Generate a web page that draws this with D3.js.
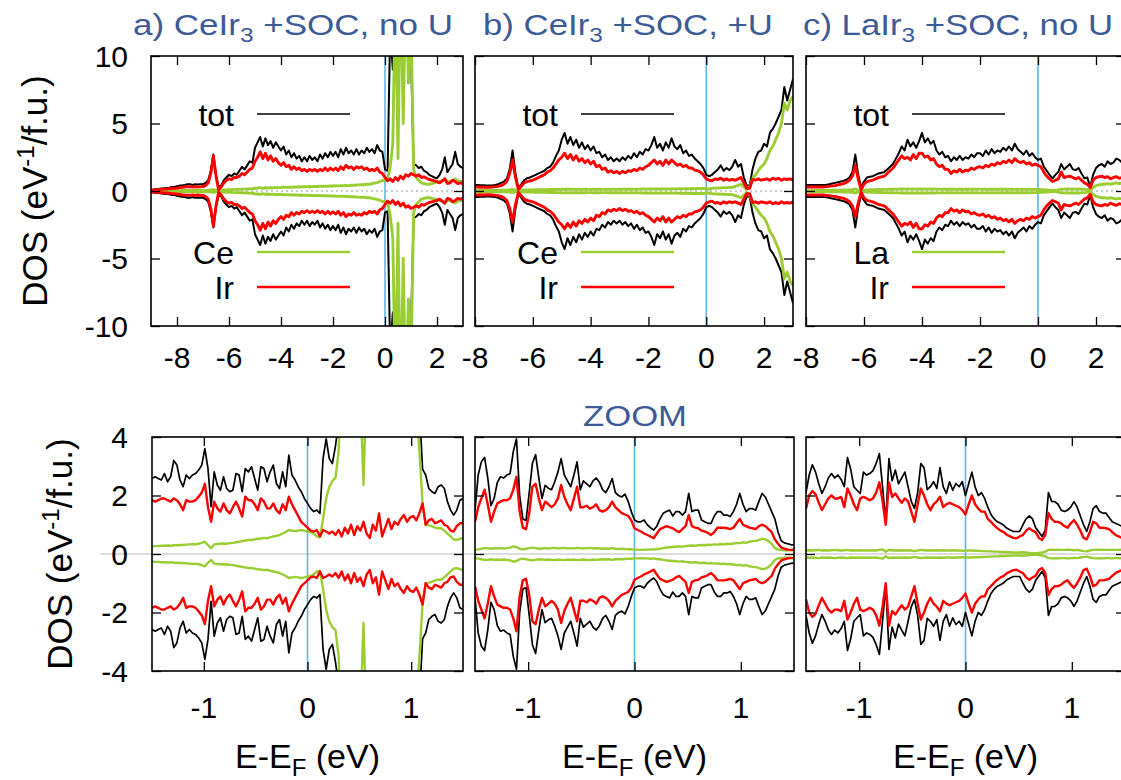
<!DOCTYPE html>
<html>
<head>
<meta charset="utf-8">
<script src="https://cdn.jsdelivr.net/npm/d3@7"></script>
<style>
body { margin: 0; background: #fff; }
text { font-family: "Liberation Sans", Arial, Helvetica, sans-serif; }
</style>
</head>
<body>
<div id="chart-area"></div>
<script>

// ---- DOS data (positive half; lower half is the mirror) ----
// top row: energy grid starts at topA_start / topBC_start with step 0.1 eV
var topA_start = -9, topBC_start = -8, top_step = 0.1;
var zoom_start = -1.5, zoom_step = 0.03;

var topA_tot = [
 0.1,0.12,0.15,0.15,0.18,0.2,0.22,0.25,0.3,0.3,
 0.35,0.4,0.42,0.45,0.5,0.5,0.45,0.5,0.48,0.5,
 0.5,0.6,0.8,1.5,2.7,1.2,0.3,0.4,0.8,1.0,
 1.2,1.1,1.3,1.2,1.5,1.8,1.6,1.9,2.2,2.1,
 3.2,3.6,4.0,3.3,3.9,3.4,3.7,3.2,3.6,3.3,
 3.0,3.3,2.7,3.0,2.5,2.8,2.4,2.6,2.2,2.5,
 2.2,2.6,2.3,2.5,2.2,2.7,2.4,2.8,2.5,2.9,
 2.6,2.9,2.5,3.1,2.7,3.2,2.8,3.0,2.7,3.1,
 2.7,3.0,2.8,3.2,2.9,3.1,2.8,3.4,3.0,2.9,
 1.6,1.5,12,9,14,15,16,14,15,13,
 10,2.0,1.9,1.7,1.8,1.5,1.4,1.2,1.1,1.0,
 0.95,1.2,1.6,2.5,1.4,1.7,2.0,2.9,2.0,1.8,
 1.7];
var topA_ir = [
 0.05,0.07,0.1,0.1,0.12,0.14,0.15,0.17,0.2,0.2,
 0.22,0.25,0.28,0.3,0.32,0.32,0.3,0.32,0.3,0.32,
 0.33,0.4,0.6,1.3,2.6,1.1,0.1,0.3,0.6,0.8,
 0.9,0.85,1.0,1.0,1.1,1.3,1.2,1.4,1.6,1.7,
 2.2,2.5,2.9,2.4,2.8,2.3,2.6,2.2,2.4,2.1,
 1.9,2.1,1.8,1.9,1.6,1.8,1.6,1.7,1.5,1.6,
 1.45,1.6,1.5,1.6,1.45,1.6,1.5,1.7,1.5,1.7,
 1.55,1.7,1.5,1.8,1.6,1.9,1.7,1.8,1.6,1.8,
 1.7,1.8,1.6,1.7,1.5,1.6,1.5,1.7,1.4,1.3,
 1.0,0.75,0.9,0.7,1.0,0.8,1.1,0.9,1.2,1.1,
 1.3,1.2,1.1,1.2,1.0,1.05,0.95,0.85,0.8,0.75,
 0.7,0.6,0.75,0.9,0.55,0.6,0.8,0.7,0.55,0.6,
 0.55];
var topA_ce = [
 0.01,0.01,0.01,0.02,0.02,0.02,0.02,0.03,0.03,0.03,
 0.03,0.04,0.04,0.04,0.05,0.05,0.05,0.05,0.05,0.05,
 0.05,0.05,0.06,0.08,0.1,0.06,0.02,0.06,0.08,0.08,
 0.1,0.1,0.12,0.12,0.13,0.14,0.14,0.15,0.16,0.17,
 0.2,0.22,0.25,0.2,0.24,0.22,0.25,0.23,0.26,0.25,
 0.26,0.28,0.27,0.29,0.28,0.3,0.29,0.31,0.3,0.32,
 0.31,0.33,0.32,0.34,0.33,0.35,0.34,0.36,0.35,0.37,
 0.37,0.39,0.38,0.4,0.39,0.41,0.4,0.43,0.42,0.44,
 0.45,0.47,0.46,0.5,0.49,0.55,0.58,0.62,0.7,0.78,
 0.8,0.9,1.8,3.5,15,2.4,17,5,16,8,
 13,1.6,1.0,0.8,0.6,0.55,0.5,0.5,0.55,0.6,
 0.65,0.7,0.75,0.9,0.7,0.7,0.8,0.9,0.75,0.7,
 0.7];

var topB_tot = [
 0.45,0.45,0.42,0.43,0.4,0.4,0.42,0.45,0.5,0.6,
 0.7,0.9,1.6,3.0,1.3,0.2,0.5,0.8,0.95,1.0,
 1.1,1.2,1.3,1.4,1.5,1.7,1.8,2.1,2.6,3.0,
 3.8,4.3,3.5,4.0,3.4,3.8,3.2,3.6,3.1,3.4,
 3.0,3.3,2.8,2.9,2.5,2.7,2.3,2.5,2.2,2.4,
 2.2,2.5,2.3,2.6,2.4,2.8,2.5,2.9,2.7,3.1,
 3.0,3.4,4.0,3.2,3.5,3.0,3.6,3.2,3.9,3.3,
 3.1,3.4,2.8,3.0,2.6,2.7,2.4,2.2,2.0,1.7,
 1.2,1.1,1.2,1.4,1.6,1.9,1.5,1.7,1.55,1.8,
 2.3,1.8,2.0,1.0,0.4,0.4,1.6,2.4,2.9,3.0,
 3.5,3.3,4.3,4.6,5.0,5.5,6.0,7.7,6.7,7.5,
 8.3];
var topB_ir = [
 0.3,0.3,0.28,0.3,0.28,0.28,0.3,0.32,0.35,0.4,
 0.5,0.7,1.3,2.3,1.0,0.1,0.35,0.6,0.7,0.75,
 0.8,0.9,1.0,1.1,1.2,1.4,1.5,1.7,2.0,2.3,
 2.5,2.8,2.4,2.7,2.3,2.6,2.2,2.4,2.1,2.3,
 2.0,2.2,1.8,1.9,1.6,1.7,1.4,1.5,1.35,1.45,
 1.3,1.45,1.35,1.5,1.45,1.6,1.5,1.7,1.6,1.8,
 1.9,2.1,2.3,2.0,2.2,1.9,2.3,2.0,2.3,2.1,
 1.9,2.0,1.8,1.9,1.7,1.7,1.55,1.5,1.4,1.2,
 0.9,0.8,0.75,0.9,0.85,0.95,0.8,0.9,0.8,0.85,
 0.8,0.9,1.0,0.6,0.2,0.2,0.85,0.8,0.9,0.8,
 0.85,0.9,0.8,0.95,0.85,0.94,0.8,0.9,0.85,0.9,
 0.8];
var topB_ce = [
 0.05,0.05,0.05,0.05,0.05,0.05,0.05,0.05,0.05,0.06,
 0.06,0.07,0.08,0.12,0.07,0.02,0.05,0.07,0.08,0.08,
 0.08,0.09,0.09,0.1,0.1,0.1,0.11,0.11,0.12,0.12,
 0.13,0.14,0.13,0.14,0.13,0.12,0.13,0.12,0.13,0.12,
 0.12,0.13,0.12,0.13,0.12,0.12,0.13,0.12,0.13,0.12,
 0.13,0.14,0.13,0.14,0.13,0.14,0.13,0.14,0.15,0.14,
 0.15,0.16,0.15,0.16,0.15,0.16,0.15,0.16,0.15,0.16,
 0.16,0.17,0.16,0.17,0.17,0.18,0.17,0.18,0.18,0.19,
 0.15,0.15,0.2,0.21,0.22,0.23,0.24,0.25,0.26,0.27,
 0.35,0.42,0.5,0.3,0.12,0.3,0.9,1.2,1.5,1.8,
 2.0,2.4,3.0,3.3,3.8,4.3,5.0,6.5,6.0,6.7,
 7.0];

var topC_tot = [
 0.45,0.45,0.44,0.45,0.45,0.45,0.45,0.47,0.5,0.55,
 0.6,0.65,0.7,0.75,0.85,1.0,1.4,2.7,1.2,0.3,
 0.7,1.0,1.06,1.1,1.2,1.3,1.35,1.4,1.6,1.8,
 2.0,2.4,2.8,3.3,3.0,3.8,3.3,3.6,3.2,3.7,
 4.3,3.6,3.9,3.5,3.7,3.0,2.7,2.9,2.5,2.6,
 2.2,2.5,2.3,2.6,2.3,2.5,2.4,2.7,2.5,2.8,
 2.8,2.6,3.0,2.7,3.1,2.8,3.0,2.9,3.2,3.0,
 3.3,3.0,3.5,3.1,2.9,2.7,3.0,2.6,2.8,2.5,
 2.3,2.4,1.8,1.5,1.2,0.94,1.2,1.4,2.0,1.6,
 1.8,2.0,1.6,1.55,1.7,1.3,0.94,1.0,0.3,1.2,
 1.7,1.9,2.0,1.8,2.2,2.0,2.1,2.4,2.3,2.1,
 2.0];
var topC_ir = [
 0.3,0.3,0.3,0.3,0.3,0.3,0.3,0.32,0.34,0.38,
 0.4,0.45,0.5,0.55,0.65,0.8,1.1,1.9,0.9,0.1,
 0.5,0.7,0.75,0.8,0.9,1.0,1.05,1.1,1.3,1.5,
 1.7,2.0,2.3,2.6,2.4,2.5,2.3,2.7,2.4,2.8,
 2.8,2.5,2.6,2.3,2.4,2.0,1.8,1.9,1.6,1.6,
 1.3,1.5,1.4,1.6,1.4,1.55,1.5,1.7,1.6,1.75,
 1.8,1.7,1.9,1.8,2.0,1.9,2.1,2.0,2.2,2.1,
 2.3,2.1,2.4,2.2,2.1,2.2,2.0,2.1,1.9,2.0,
 1.9,1.8,1.4,1.1,0.9,0.7,0.8,0.9,1.4,1.0,
 1.06,1.1,1.0,0.9,1.0,0.8,0.6,0.5,0.25,0.8,
 1.0,1.06,1.1,1.0,1.06,0.9,1.0,1.06,0.94,1.0,
 0.9];
var topC_la = [
 0.03,0.03,0.04,0.04,0.04,0.05,0.05,0.05,0.05,0.06,
 0.06,0.06,0.06,0.07,0.07,0.08,0.09,0.15,0.06,0.02,
 0.06,0.08,0.09,0.1,0.1,0.11,0.11,0.12,0.12,0.13,
 0.13,0.14,0.14,0.15,0.14,0.15,0.14,0.15,0.14,0.15,
 0.15,0.14,0.15,0.14,0.15,0.14,0.14,0.13,0.14,0.13,
 0.13,0.14,0.13,0.14,0.13,0.14,0.13,0.14,0.13,0.14,
 0.14,0.13,0.14,0.13,0.14,0.13,0.14,0.13,0.14,0.13,
 0.13,0.14,0.12,0.13,0.12,0.13,0.12,0.13,0.12,0.12,
 0.11,0.1,0.09,0.08,0.06,0.05,0.04,0.08,0.14,0.14,
 0.15,0.14,0.15,0.14,0.15,0.14,0.12,0.1,0.08,0.25,
 0.4,0.45,0.5,0.5,0.55,0.5,0.55,0.6,0.55,0.6,
 0.55];

// bottom row (ZOOM): grid from -1.5 eV in 0.03 eV steps
var zoomA_tot = [
 2.58,2.64,2.58,2.53,2.75,2.47,2.64,3.2,3.04,2.53,
 2.3,2.7,2.58,2.7,2.75,2.87,3.04,3.6,2.92,1.62,
 2.81,2.36,2.18,2.64,2.24,2.13,2.18,2.75,2.7,2.13,
 2.92,2.81,2.98,2.58,2.18,2.98,2.92,2.47,2.81,3.04,
 2.41,2.24,2.81,2.3,3.38,2.7,2.53,2.3,2.13,1.9,
 1.73,1.56,1.45,1.5,1.39,3.26,3.94,3.26,3.09,3.7,
 4.5,5,7,6,9,8,10,12,9,11,
 14,10,12,9,13,11,8,10,12,9,
 7,8,6,7,5,6,5,2.9,2.7,2.24,
 2.13,2.07,2.3,2.36,2.24,1.79,1.5,1.33,1.5,1.84,
 1.9];
var zoomA_ir = [
 1.84,1.79,1.84,1.9,1.9,1.84,1.79,1.9,1.84,1.7,
 1.5,1.84,1.79,1.79,1.84,1.96,2.1,2.4,1.6,1.1,
 1.79,1.56,1.45,1.73,1.5,1.39,1.6,1.79,1.56,1.28,
 1.96,1.84,1.84,1.7,1.5,1.9,1.79,1.56,1.56,1.73,
 1.5,1.39,1.7,1.5,1.96,1.7,1.5,1.3,1.1,1.0,
 0.9,0.8,0.77,0.82,0.6,0.82,0.77,0.7,0.77,0.65,
 0.82,0.6,0.9,0.7,1.0,0.65,0.95,0.8,1.1,0.7,
 0.55,1.0,0.8,1.39,0.6,0.9,1.2,0.85,1.1,1.0,
 1.2,1.33,1.1,1.25,1.3,1.15,1.4,1.73,1.0,1.15,
 1.2,1.05,1.1,1.15,1.0,0.95,0.8,0.77,0.95,1.05,
 1.05];
var zoomA_ce = [
 0.26,0.27,0.27,0.28,0.28,0.29,0.28,0.3,0.3,0.31,
 0.31,0.32,0.33,0.34,0.33,0.35,0.38,0.42,0.3,0.2,
 0.33,0.34,0.35,0.36,0.35,0.37,0.38,0.4,0.42,0.44,
 0.46,0.48,0.48,0.5,0.52,0.53,0.55,0.54,0.57,0.6,
 0.62,0.65,0.7,0.75,0.82,0.8,0.78,0.8,0.82,0.8,
 0.77,0.75,0.7,0.6,0.58,1.2,1.9,2.3,2.5,2.6,
 3.5,6,9,12,15,11,8,5.5,2.36,6,
 10,14,18,20,16,12,15,19,22,17,
 13,10,14,9,7,5,3.5,1.7,1.0,0.98,
 0.95,0.9,0.88,0.88,0.8,0.7,0.6,0.5,0.48,0.52,
 0.54];

var zoomB_tot = [
 1.5,2.7,3.15,3.3,2.6,1.65,1.9,2.45,2.64,2.6,
 2.7,2.75,3.5,3.94,2.0,1.2,1.15,2.1,3.1,3.4,
 2.6,1.9,2.35,2.25,2.2,2.47,2.8,3.26,2.7,2.5,
 2.3,2.7,3.15,2.2,2.5,2.4,2.3,2.5,2.6,2.45,
 2.2,2.1,2.3,2.58,2.1,2.0,1.95,2.05,1.8,1.45,
 1.16,1.1,1.1,1.16,1.0,0.9,0.82,0.95,1.2,1.39,
 1.45,1.5,1.3,1.45,1.45,1.33,1.45,2.07,1.45,1.5,
 1.5,1.16,1.1,1.05,1.05,1.3,1.45,1.45,1.33,1.33,
 1.28,1.45,1.7,2.07,1.7,1.45,1.55,1.55,1.5,1.8,
 2.07,1.95,1.7,1.45,1.2,0.75,0.45,0.38,0.35,0.32,
 0.31];
var zoomB_ir = [
 1.1,1.6,1.9,2.2,1.7,1.1,1.45,1.73,1.79,1.84,
 1.84,1.9,2.2,2.64,1.45,0.9,0.85,1.4,2.3,2.4,
 1.9,1.5,1.79,1.7,1.6,1.7,1.9,2.36,1.95,1.7,
 1.5,1.9,2.3,1.6,1.6,1.65,1.55,1.6,1.7,1.5,
 1.45,1.5,1.6,1.79,1.6,1.5,1.4,1.35,1.3,1.15,
 0.88,0.82,0.77,0.7,0.65,0.6,0.54,0.7,0.85,0.9,
 0.95,0.92,0.88,0.8,0.75,0.85,0.95,1.33,0.95,0.9,
 0.88,0.8,0.77,0.72,0.65,0.75,0.9,0.9,0.9,0.88,
 0.85,0.9,1.05,1.2,1.0,0.95,0.9,0.88,0.85,0.95,
 1.0,0.95,0.85,0.75,0.5,0.35,0.22,0.18,0.15,0.14,
 0.14];
var zoomB_ce = [
 0.14,0.16,0.18,0.2,0.2,0.18,0.2,0.19,0.2,0.19,
 0.2,0.22,0.26,0.24,0.18,0.16,0.18,0.2,0.22,0.2,
 0.18,0.19,0.2,0.19,0.2,0.21,0.19,0.2,0.21,0.19,
 0.2,0.19,0.21,0.2,0.19,0.2,0.21,0.19,0.2,0.19,
 0.18,0.19,0.18,0.2,0.18,0.17,0.18,0.17,0.16,0.16,
 0.15,0.15,0.14,0.15,0.15,0.16,0.15,0.17,0.18,0.2,
 0.22,0.23,0.24,0.25,0.26,0.25,0.27,0.28,0.29,0.28,
 0.3,0.31,0.3,0.32,0.31,0.33,0.32,0.34,0.33,0.35,
 0.34,0.36,0.38,0.37,0.4,0.38,0.42,0.44,0.45,0.48,
 0.52,0.5,0.45,0.35,0.2,0.15,0.14,0.13,0.13,0.13,
 0.13];

var zoomC_tot = [
 2.1,2.7,3.05,2.8,2.4,2.07,2.3,2.6,2.75,2.6,
 2.7,2.55,2.3,3.3,2.9,2.3,2.18,2.07,2.8,2.7,
 2.75,2.85,3.1,3.43,2.3,1.1,3.26,2.5,2.87,2.4,
 2.6,2.8,2.3,1.8,1.56,2.1,3.09,2.95,2.2,2.3,
 2.47,2.24,2.95,2.3,2.07,2.47,2.18,2.41,2.3,2.47,
 2.0,2.4,2.8,2.3,2.0,2.1,1.9,1.6,1.35,1.2,
 1.1,1.05,0.98,0.88,0.82,0.77,0.77,0.77,1.0,1.2,
 1.3,1.2,0.9,0.75,0.6,0.82,2.1,1.8,1.79,1.7,
 1.5,1.45,1.5,1.6,1.79,1.6,1.3,1.0,0.77,1.1,
 1.55,1.65,1.45,1.4,1.4,1.25,1.1,1.05,1.0,0.95,
 0.9];
var zoomC_ir = [
 1.55,2.0,2.15,2.05,1.75,1.5,1.7,1.9,2.0,1.9,
 1.9,1.95,1.6,2.24,2.0,1.7,1.5,1.9,1.95,1.9,
 1.84,1.9,2.1,2.45,1.8,1.0,2.45,1.95,2.07,1.9,
 1.75,1.9,1.8,1.45,1.1,1.7,2.24,2.0,1.7,1.5,
 1.7,1.8,1.96,1.6,1.7,1.75,1.7,1.65,1.6,1.5,
 1.35,1.7,2.0,1.7,1.55,1.45,1.45,1.2,1.1,0.98,
 0.88,0.8,0.75,0.65,0.6,0.55,0.54,0.6,0.65,0.8,
 0.88,0.8,0.75,0.55,0.48,0.65,1.4,1.2,1.1,1.1,
 1.05,0.95,0.9,1.05,1.16,1.0,0.8,0.55,0.5,0.75,
 1.1,1.05,0.9,0.9,0.88,0.85,0.75,0.65,0.6,0.55,
 0.5];
var zoomC_la = [
 0.12,0.13,0.12,0.13,0.14,0.12,0.13,0.12,0.13,0.14,
 0.13,0.12,0.13,0.14,0.12,0.13,0.12,0.13,0.12,0.13,
 0.12,0.13,0.12,0.14,0.16,0.08,0.14,0.12,0.13,0.12,
 0.13,0.12,0.13,0.12,0.1,0.12,0.14,0.13,0.12,0.13,
 0.12,0.13,0.12,0.13,0.12,0.12,0.13,0.12,0.12,0.11,
 0.11,0.12,0.12,0.11,0.11,0.1,0.1,0.09,0.09,0.08,
 0.08,0.07,0.07,0.06,0.06,0.05,0.05,0.05,0.06,0.05,
 0.04,0.03,0.03,0.04,0.05,0.08,0.14,0.15,0.14,0.15,
 0.14,0.14,0.15,0.14,0.13,0.14,0.12,0.1,0.09,0.12,
 0.14,0.15,0.14,0.15,0.14,0.14,0.15,0.14,0.14,0.15,
 0.14];

var topYTicks = [-10, -5, 0, 5, 10];
var topXTicks = [-8, -6, -4, -2, 0, 2];
var zoomYTicks = [-4, -2, 0, 2, 4];
var zoomXTicks = [-1, 0, 1];

// ---- layout ----
var width = 1121,
    height = 780;

var colTot = "#000000", colIr = "#ff0000", colRm = "#9acd32",
    colFermi = "#5ab6e6", colTitle = "#3d5a98";

var svg = d3.select("#chart-area")
    .append("svg")
    .attr("width", width)
    .attr("height", height);

var panels = [
    {x0: 151, x1: 463, y0: 56, y1: 326, xd: [-9, 3], yd: [-10, 10], e0: topA_start, de: top_step,
     tot: topA_tot, ir: topA_ir, rm: topA_ce, rmName: "Ce", yt: topYTicks, xt: topXTicks, ylab: true, legend: true, row: 0},
    {x0: 475, x1: 793, y0: 56, y1: 326, xd: [-8, 3], yd: [-10, 10], e0: topBC_start, de: top_step,
     tot: topB_tot, ir: topB_ir, rm: topB_ce, rmName: "Ce", yt: topYTicks, xt: topXTicks, ylab: false, legend: true, row: 0},
    {x0: 806, x1: 1125, y0: 56, y1: 326, xd: [-8, 3], yd: [-10, 10], e0: topBC_start, de: top_step,
     tot: topC_tot, ir: topC_ir, rm: topC_la, rmName: "La", yt: topYTicks, xt: topXTicks, ylab: false, legend: true, row: 0},
    {x0: 152, x1: 463, y0: 437, y1: 671, xd: [-1.5, 1.5], yd: [-4, 4], e0: zoom_start, de: zoom_step,
     tot: zoomA_tot, ir: zoomA_ir, rm: zoomA_ce, yt: zoomYTicks, xt: zoomXTicks, ylab: true, legend: false, row: 1},
    {x0: 475, x1: 794, y0: 437, y1: 671, xd: [-1.5, 1.5], yd: [-4, 4], e0: zoom_start, de: zoom_step,
     tot: zoomB_tot, ir: zoomB_ir, rm: zoomB_ce, yt: zoomYTicks, xt: zoomXTicks, ylab: false, legend: false, row: 1},
    {x0: 806, x1: 1125, y0: 437, y1: 671, xd: [-1.5, 1.5], yd: [-4, 4], e0: zoom_start, de: zoom_step,
     tot: zoomC_tot, ir: zoomC_ir, rm: zoomC_la, yt: zoomYTicks, xt: zoomXTicks, ylab: false, legend: false, row: 1}
];

// faint zero line running across the whole zoom row
svg.append("line")
    .attr("x1", 100).attr("x2", width)
    .attr("y1", 554).attr("y2", 554)
    .attr("stroke", "#dcdcdc").attr("stroke-width", 2);

panels.forEach(function(p, pi) {
    var x = d3.scaleLinear().domain(p.xd).range([p.x0, p.x1]);
    var y = d3.scaleLinear().domain(p.yd).range([p.y1, p.y0]);

    var clipId = "clip" + pi;
    svg.append("clipPath").attr("id", clipId)
        .append("rect")
        .attr("x", p.x0).attr("y", p.y0)
        .attr("width", p.x1 - p.x0).attr("height", p.y1 - p.y0);

    var g = svg.append("g").attr("clip-path", "url(#" + clipId + ")");

    if (p.row == 0) {
        g.append("line")
            .attr("x1", p.x0).attr("x2", p.x1)
            .attr("y1", y(0)).attr("y2", y(0))
            .attr("stroke", "#bbbbbb").attr("stroke-width", 1.5)
            .attr("stroke-dasharray", "2,3");
    }

    // Fermi level
    g.append("line")
        .attr("x1", x(0)).attr("x2", x(0))
        .attr("y1", p.y0).attr("y2", p.y1)
        .attr("stroke", colFermi).attr("stroke-width", 1.6);

    var lineUp = d3.line()
        .x(function(d, i) { return x(p.e0 + p.de * i); })
        .y(function(d) { return y(d); });
    var lineDown = d3.line()
        .x(function(d, i) { return x(p.e0 + p.de * i); })
        .y(function(d) { return y(-d); });

    // top row curves are drawn a little heavier (the originals are very noisy there)
    var wTot = p.row == 0 ? 2.0 : 1.7,
        wPart = p.row == 0 ? 2.9 : 2.4;
    var series = [
        {data: p.tot, color: colTot, w: wTot},
        {data: p.rm, color: colRm, w: wPart},
        {data: p.ir, color: colIr, w: wPart}
    ];
    series.forEach(function(s) {
        [lineUp, lineDown].forEach(function(ln) {
            g.append("path")
                .datum(s.data)
                .attr("d", ln)
                .attr("fill", "none")
                .attr("stroke", s.color)
                .attr("stroke-width", s.w)
                .attr("stroke-linejoin", "round");
        });
    });

    // inward ticks on all four sides
    var tk = 9;
    svg.append("g").attr("transform", "translate(0," + p.y1 + ")")
        .call(d3.axisBottom(x).tickValues(p.xt).tickSize(-tk).tickFormat(""));
    svg.append("g").attr("transform", "translate(0," + p.y0 + ")")
        .call(d3.axisTop(x).tickValues(p.xt).tickSize(-tk).tickFormat(""));
    svg.append("g").attr("transform", "translate(" + p.x0 + ",0)")
        .call(d3.axisLeft(y).tickValues(p.yt).tickSize(-tk).tickFormat(""));
    svg.append("g").attr("transform", "translate(" + p.x1 + ",0)")
        .call(d3.axisRight(y).tickValues(p.yt).tickSize(-tk).tickFormat(""));
    svg.selectAll(".domain").remove();
    svg.selectAll(".tick line").attr("stroke", "#000").attr("stroke-width", 1.3);

    // frame
    svg.append("rect")
        .attr("x", p.x0).attr("y", p.y0)
        .attr("width", p.x1 - p.x0).attr("height", p.y1 - p.y0)
        .attr("fill", "none").attr("stroke", "#000").attr("stroke-width", 1.6);

    // x tick labels
    var xLabY = p.row == 0 ? 368 : 718;
    p.xt.forEach(function(v) {
        if (x(v) > width) return;
        svg.append("text")
            .attr("x", x(v)).attr("y", xLabY)
            .attr("text-anchor", "middle")
            .attr("font-size", 30)
            .text(String(v));
    });

    if (p.ylab) {
        p.yt.forEach(function(v) {
            svg.append("text")
                .attr("x", 128).attr("y", y(v))
                .attr("dy", "0.36em")
                .attr("text-anchor", "end")
                .attr("font-size", 30)
                .text(String(v));
        });
        var yl = svg.append("text")
            .attr("transform", "translate(" + (p.row == 0 ? 47 : 72) + "," + ((p.y0 + p.y1) / 2) + ") rotate(-90)")
            .attr("text-anchor", "middle")
            .attr("font-size", 35);
        yl.append("tspan").text("DOS (eV");
        yl.append("tspan").attr("font-size", 24).attr("dy", -13).text("-1");
        yl.append("tspan").attr("dy", 13).text("/f.u.)");
    }

    if (p.legend) {
        var items = [["tot", colTot, 1.7, 58], [p.rmName, colRm, 2.4, 196], ["Ir", colIr, 2.4, 231]];
        items.forEach(function(it) {
            svg.append("text")
                .attr("x", p.x0 + 83).attr("y", p.y0 + it[3] + 12)
                .attr("text-anchor", "end")
                .attr("font-size", 32)
                .text(it[0]);
            svg.append("line")
                .attr("x1", p.x0 + 106).attr("x2", p.x0 + 199)
                .attr("y1", p.y0 + it[3]).attr("y2", p.y0 + it[3])
                .attr("stroke", it[1]).attr("stroke-width", it[2]);
        });
    }

    if (p.row == 1) {
        var xl = svg.append("text")
            .attr("x", (p.x0 + p.x1) / 2).attr("y", 768)
            .attr("text-anchor", "middle")
            .attr("font-size", 34);
        xl.append("tspan").text("E-E");
        xl.append("tspan").attr("font-size", 24).attr("dy", 8).text("F");
        xl.append("tspan").attr("dy", -8).text(" (eV)");
    }
});

// panel titles
var titles = [
    {cx: 293, len: 320, pre: "a) CeIr", post: " +SOC, no U"},
    {cx: 628, len: 290, pre: "b) CeIr", post: " +SOC, +U"},
    {cx: 958, len: 310, pre: "c) LaIr", post: " +SOC, no U"}
];
titles.forEach(function(t) {
    var tt = svg.append("text")
        .attr("x", t.cx).attr("y", 35)
        .attr("text-anchor", "middle")
        .attr("font-size", 30)
        .attr("fill", colTitle)
        .attr("textLength", t.len)
        .attr("lengthAdjust", "spacingAndGlyphs");
    tt.append("tspan").text(t.pre);
    tt.append("tspan").attr("font-size", 21).attr("dy", 7).text("3");
    tt.append("tspan").attr("dy", -7).text(t.post);
});

svg.append("text")
    .attr("x", 635).attr("y", 426)
    .attr("text-anchor", "middle")
    .attr("font-size", 30)
    .attr("fill", colTitle)
    .attr("textLength", 104)
    .attr("lengthAdjust", "spacingAndGlyphs")
    .text("ZOOM");

</script>
</body>
</html>
